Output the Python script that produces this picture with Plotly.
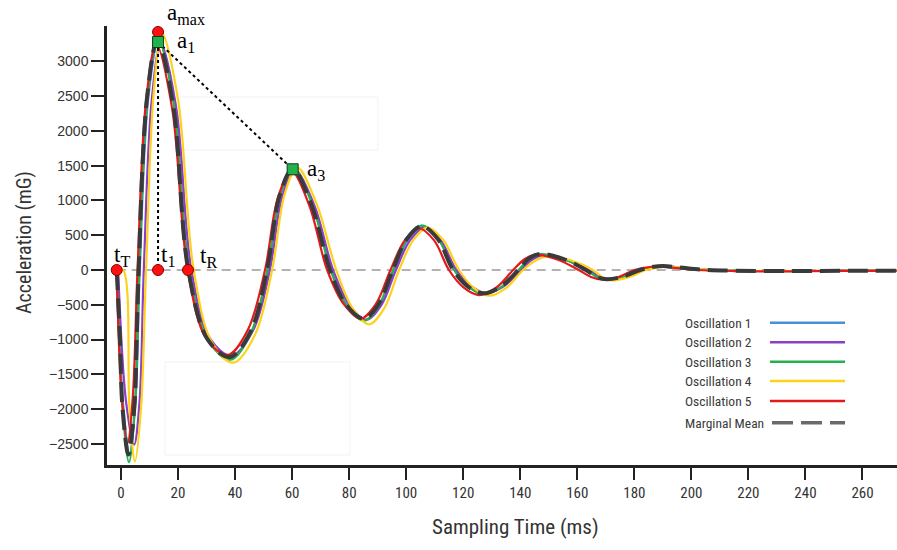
import plotly.graph_objects as go

# ---------------- data ----------------
T_MEAN = [-1.5, -0.35, 0.5, 2.6, 4.7, 5.5, 6.2, 9.2, 12.8, 18.2, 23.6, 30.5, 38.2, 45.5, 51.2, 55.7, 60.2, 66.7, 73.3,
          79.0, 85.0, 90.2, 95.3, 100.3, 105.4, 111.0, 116.5, 121.7, 127.0, 133.1, 139.3, 143.0, 147.0, 155.0, 163.0,
          166.6, 170.3, 176.0, 182.0, 186.0, 190.0, 196.0, 204.0, 215.0, 235.0, 255.0, 272.0]
V_MEAN = [0, -1000, -1960, -2650, -1960, -1000, 0, 2500, 3300, 2400, 0, -1005, -1250, -880, 0, 1080, 1450, 950, 0,
          -500, -700, -500, 0, 450, 630, 450, 0, -240, -335, -240, 0, 165, 230, 160, 0,
          -95, -134, -95, 0, 40, 57, 35, 5, -10, -15, -12, -10]

T_OSC1 = [-1.5, 0.8, 3.0, 5.0, 6.6, 9.6, 13.2, 18.6, 24.0, 30.9, 38.6, 45.9, 51.6, 56.1, 60.6, 67.1, 73.7, 79.4, 85.4,
          90.6, 95.7, 100.7, 105.8, 111.4, 116.9, 122.1, 127.4, 133.5, 139.7, 143.4, 147.4, 155.4, 163.4, 167.0, 170.7,
          176.4, 182.4, 186.4, 190.4, 196.4, 204.4, 215.0, 235.0, 255.0, 272.0]
V_OSC1 = [0, -1950, -2640, -1950, 0, 2480, 3290, 2390, 0, -1010, -1270, -890, 0, 1090, 1460, 960, 0, -510, -720,
          -510, 0, 440, 620, 440, 0, -245, -340, -245, 0, 160, 225, 155, 0, -100, -140,
          -100, 0, 38, 55, 32, 3, -12, -15, -12, -10]

T_OSC2 = [-1.0, 1.8, 4.6, 6.5, 8.0, 10.8, 14.0, 19.3, 24.7, 31.3, 38.8, 46.3, 52.2, 56.6, 61.0, 67.7, 74.4, 80.2, 86.0,
          91.3, 96.4, 101.4, 106.5, 112.0, 117.6, 122.9, 128.0, 134.2, 140.3, 144.2, 148.0, 156.0, 164.0, 167.6, 171.3,
          177.1, 183.0, 187.0, 191.0, 197.0, 205.0, 215.0, 235.0, 255.0, 272.0]
V_OSC2 = [0, -1900, -2510, -1900, 0, 2450, 3250, 2350, 0, -990, -1230, -870, 0, 1060, 1430, 940, 0, -505, -715,
          -505, 0, 430, 610, 430, 0, -235, -330, -235, 0, 150, 210, 145, 0, -90, -130,
          -90, 0, 35, 50, 30, 2, -12, -15, -12, -10]

T_OSC3 = [-1.5, 0.6, 2.8, 4.8, 6.4, 9.4, 12.9, 18.4, 23.8, 30.7, 38.3, 45.6, 51.3, 55.8, 60.3, 66.9, 73.5, 79.2, 85.2,
          90.3, 95.4, 100.4, 105.5, 111.1, 116.8, 122.0, 127.2, 133.3, 139.4, 143.2, 147.2, 155.2, 163.2, 166.8, 170.5,
          176.3, 182.3, 186.2, 190.2, 196.2, 204.0, 215.0, 235.0, 255.0, 272.0]
V_OSC3 = [0, -2000, -2760, -2000, 0, 2520, 3330, 2420, 0, -1020, -1290, -900, 0, 1090, 1460, 960, 0, -520, -730,
          -520, 0, 455, 640, 455, 0, -245, -345, -245, 0, 160, 225, 158, 0, -100, -140,
          -100, 0, 42, 60, 35, 5, -10, -15, -12, -10]

T_OSC4 = [-1.5, 0.7, 3.0, 4.9, 7.0, 8.8, 11.5, 14.4, 20.0, 25.5, 32.0, 39.5, 47.0, 53.0, 57.4, 61.8, 68.5, 75.5, 81.2,
          87.0, 92.3, 97.5, 102.5, 107.5, 113.0, 118.5, 123.8, 129.0, 135.0, 141.0, 145.5, 150.0, 157.7, 165.5, 168.8,
          172.0, 178.0, 184.0, 188.0, 192.0, 198.0, 206.0, 215.0, 235.0, 255.0, 272.0]
V_OSC4 = [0, 0, -2000, -2750, -2000, 0, 2560, 3400, 2450, 0, -1050, -1330, -930, 0, 1090, 1470, 960, 0, -550,
          -780, -550, 0, 430, 610, 430, 0, -260, -370, -260, 0, 140, 200, 140, 0, -105,
          -150, -105, 0, 35, 50, 30, 2, -12, -15, -12, -10]

T_OSC5 = [-1.5, 0.3, 2.3, 4.1, 5.8, 8.8, 12.4, 17.9, 23.4, 30.0, 37.5, 44.5, 50.5, 55.1, 59.8, 66.0, 72.3, 78.2, 84.0,
          89.3, 94.5, 99.5, 104.5, 109.8, 115.0, 120.2, 125.5, 131.5, 137.5, 141.5, 145.5, 153.0, 160.5, 164.8, 169.0,
          174.5, 180.0, 184.0, 188.0, 194.0, 202.0, 215.0, 235.0, 255.0, 272.0]
V_OSC5 = [0, -1850, -2490, -1850, 0, 2430, 3240, 2330, 0, -990, -1220, -860, 0, 1050, 1420, 930, 0, -495, -700,
          -495, 0, 425, 600, 425, 0, -255, -360, -255, 0, 155, 220, 150, 0, -100, -140,
          -100, 0, 35, 50, 30, 0, -15, -18, -14, -12]

SERIES_NAMES = ["Oscillation 1", "Oscillation 2", "Oscillation 3", "Oscillation 4", "Oscillation 5", "Marginal Mean"]
SERIES_COLORS = ["#4a90d9", "#8a3fc9", "#22b14c", "#ffd21a", "#e31a1c", "#4a4a4a"]

# feature points
RED_T = [-1.5, 13.0, 23.5, 13.0]      # tT, t1, tR, a_max
RED_V = [0, 0, 0, 3420]
GREEN_T = [13.0, 60.2]                # a1, a3
GREEN_V = [3276, 1447]

X_TICKS = list(range(0, 261, 20))
Y_TICKS = [-2500, -2000, -1500, -1000, -500, 0, 500, 1000, 1500, 2000, 2500, 3000]

NARROW = "Liberation Sans Narrow, Roboto Condensed, Lato, sans-serif"
SERIF = "Liberation Serif, Times New Roman, DejaVu Serif, serif"

# ---------------- figure ----------------
fig = go.Figure()

# plot-area pixel frame: left 107, right 897, top 26, bottom 465
L, R, T, B = 107, 897, 26, 465
def px(xp):
    return (xp - L) / (R - L)
def py(yp):
    return (B - yp) / (B - T)

# zero reference line
fig.add_shape(type="line", xref="x", yref="y", x0=-1.5, x1=272, y0=0, y1=0,
              line=dict(color="#9a9a9a", width=1.6, dash="9px,6px"), layer="below")

# faint rectangles (artifacts in reference)
for (x0, y0, x1, y1) in [(180, 97, 378, 150), (165, 362, 350, 455)]:
    fig.add_shape(type="rect", xref="paper", yref="paper", x0=px(x0), x1=px(x1), y0=py(y1), y1=py(y0),
                  line=dict(color="rgba(0,0,0,0.05)", width=1), layer="below")

series = [(T_OSC1, V_OSC1), (T_OSC2, V_OSC2), (T_OSC3, V_OSC3), (T_OSC4, V_OSC4), (T_OSC5, V_OSC5)]
for (tt, vv), name, col in zip(series, SERIES_NAMES[:5], SERIES_COLORS[:5]):
    fig.add_trace(go.Scatter(x=tt, y=vv, mode="lines", name=name,
                             line=dict(color=col, width=2.2, shape="spline", smoothing=1.0)))

fig.add_trace(go.Scatter(x=T_MEAN, y=V_MEAN, mode="lines", name=SERIES_NAMES[5],
                         line=dict(color="#3a3a3a", width=4, dash="20px,8px", shape="spline", smoothing=1.0)))

# dotted guide lines
fig.add_trace(go.Scatter(x=[GREEN_T[0], RED_T[1]], y=[GREEN_V[0], RED_V[1]], mode="lines",
                         line=dict(color="black", width=2, dash="dot"), hoverinfo="skip"))
fig.add_trace(go.Scatter(x=GREEN_T, y=GREEN_V, mode="lines",
                         line=dict(color="black", width=2, dash="dot"), hoverinfo="skip"))

# markers
fig.add_trace(go.Scatter(x=RED_T, y=RED_V, mode="markers", cliponaxis=False,
                         marker=dict(color="#ff1010", size=11, line=dict(color="#8b0000", width=1))))
fig.add_trace(go.Scatter(x=GREEN_T, y=GREEN_V, mode="markers", cliponaxis=False,
                         marker=dict(color="#22b14c", size=11, symbol="square", line=dict(color="#0b3d16", width=1))))

# text labels for feature points
labels = [("a<sub>max</sub>", 186, 14), ("a<sub>1</sub>", 186, 42), ("a<sub>3</sub>", 316, 170),
          ("t<sub>T</sub>", 122, 256), ("t<sub>1</sub>", 168, 256), ("t<sub>R</sub>", 208, 257)]
for txt, xp, yp in labels:
    fig.add_annotation(text=txt, xref="paper", yref="paper", x=px(xp), y=py(yp), showarrow=False,
                       xanchor="center", yanchor="middle", font=dict(family=SERIF, size=23, color="black"))

# manual legend (text left, line sample right)
leg_rows = [322.7, 342.3, 361.7, 381.0, 401.0, 422.7]
for name, col, yr in zip(SERIES_NAMES, SERIES_COLORS, leg_rows):
    fig.add_annotation(text=name, xref="paper", yref="paper", x=px(683), y=py(yr), showarrow=False,
                       xanchor="left", yanchor="middle", font=dict(family=NARROW, size=13.5, color="#3a3a3a"))
    if name == "Marginal Mean":
        fig.add_shape(type="line", xref="paper", yref="paper", x0=px(772), x1=px(845), y0=py(yr), y1=py(yr),
                      line=dict(color="#6a6a6a", width=3.5, dash="21px,8px"))
    else:
        fig.add_shape(type="line", xref="paper", yref="paper", x0=px(770), x1=px(845), y0=py(yr), y1=py(yr),
                      line=dict(color=col, width=2.5))

# axis titles
fig.add_annotation(text="Acceleration (mG)", xref="paper", yref="paper", x=px(24), y=py(243), showarrow=False,
                   textangle=-90, xanchor="center", yanchor="middle",
                   font=dict(family=NARROW, size=20, color="#333"))
fig.add_annotation(text="Sampling Time (ms)", xref="paper", yref="paper", x=px(515), y=py(527), showarrow=False,
                   xanchor="center", yanchor="middle", font=dict(family=NARROW, size=21, color="#333"))

fig.update_layout(
    width=897, height=550,
    margin=dict(l=L, r=897 - R, t=T, b=550 - B),
    plot_bgcolor="white", paper_bgcolor="white",
    showlegend=False,
)
fig.update_xaxes(range=[-4.9, 272.1], tickvals=X_TICKS, ticks="outside", ticklen=12, tickwidth=2,
                 tickcolor="#222", showline=True, linecolor="#222", linewidth=2.5, showgrid=False,
                 zeroline=False, tickfont=dict(family=NARROW, size=15, color="#333"))
fig.update_yaxes(range=[-2802, 3506], tickvals=Y_TICKS, ticks="outside", ticklen=13, tickwidth=2,
                 tickcolor="#222", showline=True, linecolor="#222", linewidth=2.5, showgrid=False,
                 zeroline=False, tickfont=dict(family="Liberation Sans, Arial, sans-serif", size=14, color="#333"))

fig.write_html("out.html", config={"displayModeBar": False},
               post_script="document.body.style.margin='0';")
